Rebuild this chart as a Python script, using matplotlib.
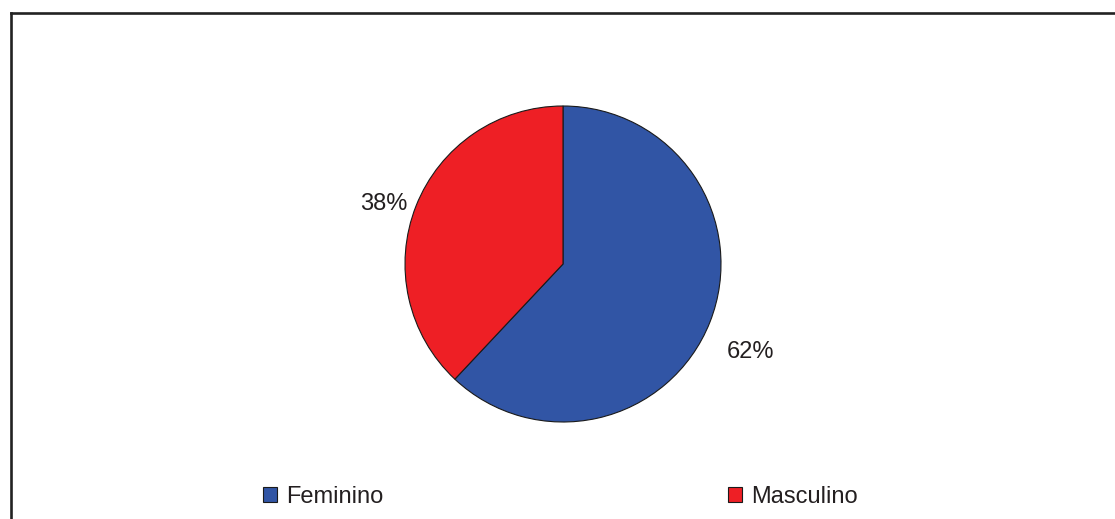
import matplotlib
matplotlib.use("Agg")
from matplotlib import pyplot as plt
from matplotlib.lines import Line2D

plt.rcParams['font.family'] = ['Liberation Sans', 'DejaVu Sans']

# data
labels = ["Feminino", "Masculino"]
values = [62, 38]
colors = ["#3155a5", "#ee1f25"]

W, H = 1115, 519
fig = plt.figure(figsize=(W / 100, H / 100), dpi=100)

# outer frame (only top and left edges fall inside the canvas)
lc = "#222222"
fig.add_artist(Line2D([10.5 / W, 10.5 / W], [0, 1 - 13 / H], color=lc, lw=1.9,
                      transform=fig.transFigure, solid_capstyle='projecting'))
fig.add_artist(Line2D([10.5 / W, 1], [1 - 13 / H, 1 - 13 / H], color=lc, lw=1.9,
                      transform=fig.transFigure, solid_capstyle='projecting'))

# pie axes, centre (563, 264) px, radius 158 px
cx, cy, r = 563, 264, 158
ax = fig.add_axes([(cx - r) / W, (H - cy - r) / H, 2 * r / W, 2 * r / H])
wedges, texts, autotexts = ax.pie(values, colors=colors, startangle=90, counterclock=False,
                                  autopct='%d%%', pctdistance=1.2,
                                  wedgeprops=dict(edgecolor="#1a1a1a", linewidth=0.8),
                                  textprops=dict(fontsize=17, color="#231f20"))
ax.set_xlim(-1, 1)
ax.set_ylim(-1, 1)
ax.axis('off')

# label positions
autotexts[0].set_position(((750 - cx) / r, (cy - 352) / r))
autotexts[1].set_position(((384 - cx) / r, (cy - 204) / r))
for t in autotexts:
    t.set_ha('center')
    t.set_va('center')

# legend along the bottom
fig.legend(wedges, labels, loc='center left', bbox_to_anchor=(263 / W, 1 - 497 / H),
           ncol=2, frameon=False, fontsize=17, handlelength=0.58, handleheight=0.58,
           handletextpad=0.4, columnspacing=14.6, borderpad=0, borderaxespad=0,
           labelcolor="#231f20")

fig.savefig("out.png", dpi=100)
